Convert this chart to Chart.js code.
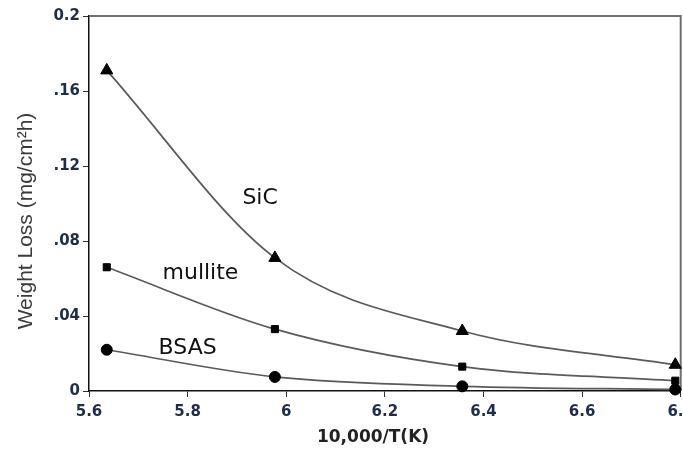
<!DOCTYPE html>
<html>
<head>
<meta charset="utf-8">
<script src="https://cdn.jsdelivr.net/npm/chart.js@4.4.0/dist/chart.umd.min.js"></script>
<style>
  html, body { margin: 0; padding: 0; background: #fff; overflow: hidden; }
  #wrap { width: 700px; height: 449px; }
</style>
</head>
<body>
<div id="wrap"><canvas id="chart" width="700" height="449"></canvas></div>
<script>
// 10,000/T values
const xValues = [5.636, 5.977, 6.357, 6.789];
const sicLoss = [0.171, 0.071, 0.032, 0.014];
const mulliteLoss = [0.066, 0.033, 0.013, 0.0055];
const bsasLoss = [0.022, 0.0075, 0.0025, 0.0008];

const yTicks = [0, 0.04, 0.08, 0.12, 0.16, 0.2];
const yTickLabels = ['0', '.04', '.08', '.12', '.16', '0.2'];
const xTicks = [5.6, 5.8, 6.0, 6.2, 6.4, 6.6, 6.8];
const xTickLabels = ['5.6', '5.8', '6', '6.2', '6.4', '6.6', '6.8'];

// series names, and where they sit on the plot (data units)
const seriesNames = ['SiC', 'mullite', 'BSAS'];
const nameX = [5.947, 5.826, 5.80];
const nameY = [0.103, 0.063, 0.023];

const tickColor = '#1f2d4d';
const tickFont = { family: '"DejaVu Sans", sans-serif', size: 15, weight: 'bold' };

function toPoints(ys) {
  return xValues.map((x, i) => ({ x: x, y: ys[i] }));
}

function series(data, style, r) {
  return {
    data: toPoints(data),
    borderColor: '#5a5a5a',
    borderWidth: 1.7,
    tension: 0.4,
    cubicInterpolationMode: 'monotone',
    pointStyle: style,
    pointRadius: r,
    pointBackgroundColor: '#000',
    pointBorderColor: '#000',
    pointBorderWidth: 1,
    clip: false
  };
}

// gray frame on top/right + the series names
const extras = {
  id: 'extras',
  beforeDatasetsDraw(chart) {
    const { ctx, chartArea: a } = chart;
    ctx.save();
    ctx.strokeStyle = '#6f6f6f';
    ctx.lineWidth = 2;
    ctx.beginPath();
    ctx.moveTo(a.left, a.top);
    ctx.lineTo(a.right, a.top);
    ctx.lineTo(a.right, a.bottom);
    ctx.stroke();
    ctx.restore();
  },
  afterDatasetsDraw(chart) {
    const { ctx, scales } = chart;
    ctx.save();
    ctx.fillStyle = '#111';
    ctx.font = '22px "DejaVu Sans", sans-serif';
    ctx.textAlign = 'center';
    ctx.textBaseline = 'middle';
    seriesNames.forEach((n, i) => {
      ctx.fillText(n, scales.x.getPixelForValue(nameX[i]), scales.y.getPixelForValue(nameY[i]));
    });
    ctx.restore();
  }
};

new Chart(document.getElementById('chart'), {
  type: 'line',
  data: {
    datasets: [
      series(sicLoss, 'triangle', 7),
      series(mulliteLoss, 'rect', 5),
      series(bsasLoss, 'circle', 5.5)
    ]
  },
  options: {
    responsive: false,
    animation: false,
    layout: { padding: { left: 8, top: 16, right: 0, bottom: 0 } },
    plugins: { legend: { display: false }, tooltip: { enabled: false } },
    scales: {
      x: {
        type: 'linear',
        min: 5.6,
        max: 6.8,
        afterBuildTicks: s => { s.ticks = xTicks.map(v => ({ value: v })); },
        afterFit: s => { s.height = 58; },
        border: { display: true, color: '#111', width: 1.5 },
        grid: { drawOnChartArea: false, drawTicks: true, tickLength: 6, color: '#333' },
        ticks: {
          color: tickColor,
          padding: 6,
          maxRotation: 0,
          font: tickFont,
          callback: (v, i) => xTickLabels[i]
        },
        title: {
          display: true,
          text: '10,000/T(K)    ',
          color: '#222',
          padding: { top: 2, bottom: 1 },
          font: { family: '"DejaVu Sans", sans-serif', size: 17, weight: 'bold' }
        }
      },
      y: {
        min: 0,
        max: 0.2,
        afterBuildTicks: s => { s.ticks = yTicks.map(v => ({ value: v })); },
        afterFit: s => { s.width = 81; },
        border: { display: true, color: '#111', width: 1.5 },
        grid: { drawOnChartArea: false, drawTicks: true, tickLength: 6, color: '#333' },
        ticks: {
          color: tickColor,
          padding: 3,
          font: tickFont,
          callback: (v, i) => yTickLabels[i]
        },
        title: {
          display: true,
          text: 'Weight Loss (mg/cm²h)\u00a0\u00a0\u00a0\u00a0\u00a0\u00a0',
          color: '#3a3a3a',
          padding: { top: 6, bottom: 0 },
          font: { family: '"Liberation Sans", Arial, sans-serif', size: 21 }
        }
      }
    }
  },
  plugins: [extras]
});
</script>
</body>
</html>
